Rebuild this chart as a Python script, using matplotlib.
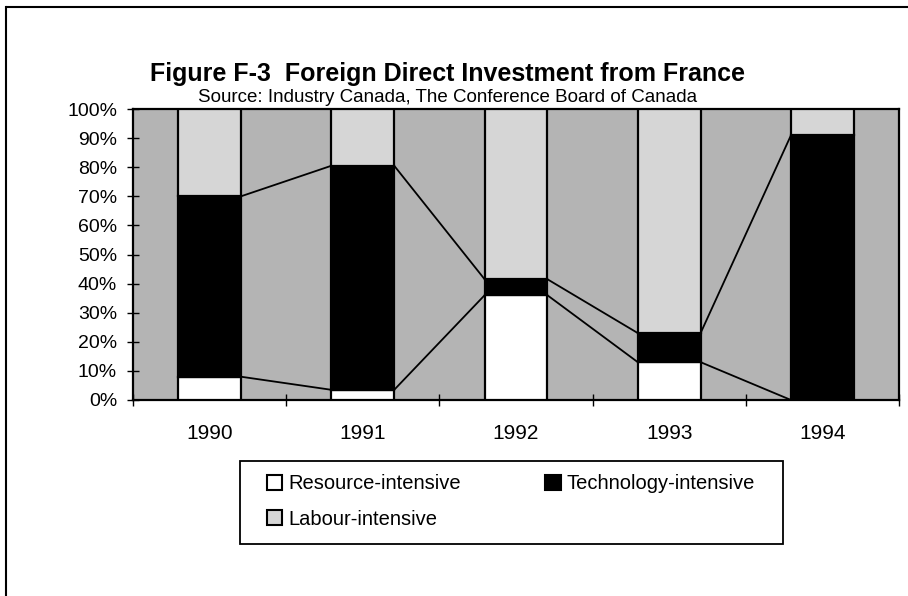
import matplotlib
matplotlib.use("Agg")
from matplotlib import pyplot as plt
from matplotlib.lines import Line2D
from matplotlib.patches import Rectangle
import numpy as np

# data (percent of total)
years = ["1990", "1991", "1992", "1993", "1994"]
resource = [8, 3.5, 36, 13, 0]
technology = [62, 77, 5.5, 10, 91]
labour = [30, 19.5, 58.5, 77, 9]

plt.rcParams["font.family"] = ["Liberation Sans", "DejaVu Sans"]

fig = plt.figure(figsize=(9.08, 5.96), dpi=100)
ax = fig.add_axes([133 / 908, 196 / 596, 766 / 908, 291 / 596])
ax.set_facecolor("#b4b4b4")

x = np.arange(len(years))
w = 0.41
res = np.array(resource)
tech = np.array(technology)
lab = np.array(labour)

ax.bar(x, res, w, color="white", edgecolor="black", linewidth=1.6, zorder=3)
ax.bar(x, tech, w, bottom=res, color="black", edgecolor="black", linewidth=1.6, zorder=3)
ax.bar(x, lab, w, bottom=res + tech, color="#d6d6d6", edgecolor="black", linewidth=1.6, zorder=3)

# series lines between neighbouring bars
for top in (res, res + tech):
    for i in range(len(x) - 1):
        ax.plot([x[i] + w / 2, x[i + 1] - w / 2], [top[i], top[i + 1]],
                color="black", lw=1.3, zorder=2)

ax.set_xlim(-0.5, len(x) - 0.5)
ax.set_ylim(0, 100)
ax.set_yticks(np.arange(0, 101, 10))
ax.set_yticklabels([f"{v}%" for v in range(0, 101, 10)], fontsize=14)
ax.set_xticks(x)
ax.set_xticklabels(years, fontsize=15)
ax.set_xticks(np.arange(-0.5, len(x), 1), minor=True)
ax.tick_params(axis="x", which="major", length=0, pad=17)
ax.tick_params(axis="x", which="minor", direction="inout", length=8, width=1)
ax.tick_params(axis="y", direction="inout", length=9, width=1, pad=7)
for s in ax.spines.values():
    s.set_linewidth(1.6)

# legend without frame, frame drawn separately
handles = [
    Rectangle((0, 0), 1, 1, facecolor="white", edgecolor="black", lw=1.5),
    Rectangle((0, 0), 1, 1, facecolor="#d6d6d6", edgecolor="black", lw=1.5),
    Rectangle((0, 0), 1, 1, facecolor="black", edgecolor="black", lw=1.5),
]
labels = ["Resource-intensive", "Labour-intensive", "Technology-intensive"]
fig.legend(handles, labels, ncol=2, mode="expand", frameon=False,
           bbox_to_anchor=(267 / 908, (596 - 540) / 596, (755 - 267) / 908, 77 / 596),
           loc="center", borderpad=0, borderaxespad=0, fontsize=14.5,
           handlelength=0.75, handleheight=0.75, handletextpad=0.3, labelspacing=0.8)
fig.patches.append(Rectangle((240 / 908, (596 - 544) / 596), 543 / 908, 83 / 596,
                             transform=fig.transFigure, fill=False,
                             edgecolor="black", lw=1.3))

# outer frame of the scanned page (top and left edges)
fig.lines.append(Line2D([7 / 908, 1.0], [1 - 7 / 596, 1 - 7 / 596],
                        transform=fig.transFigure, color="black", lw=1.5))
fig.lines.append(Line2D([6 / 908, 6 / 908], [0, 1 - 7 / 596],
                        transform=fig.transFigure, color="black", lw=1.5))

fig.text(447 / 908, 1 - 74 / 596, "Figure F-3  Foreign Direct Investment from France",
         ha="center", va="center", fontsize=18, fontweight="bold")
fig.text(448 / 908, 1 - 98 / 596, "Source: Industry Canada, The Conference Board of Canada",
         ha="center", va="center", fontsize=13.5)

fig.savefig("out.png", dpi=100)
